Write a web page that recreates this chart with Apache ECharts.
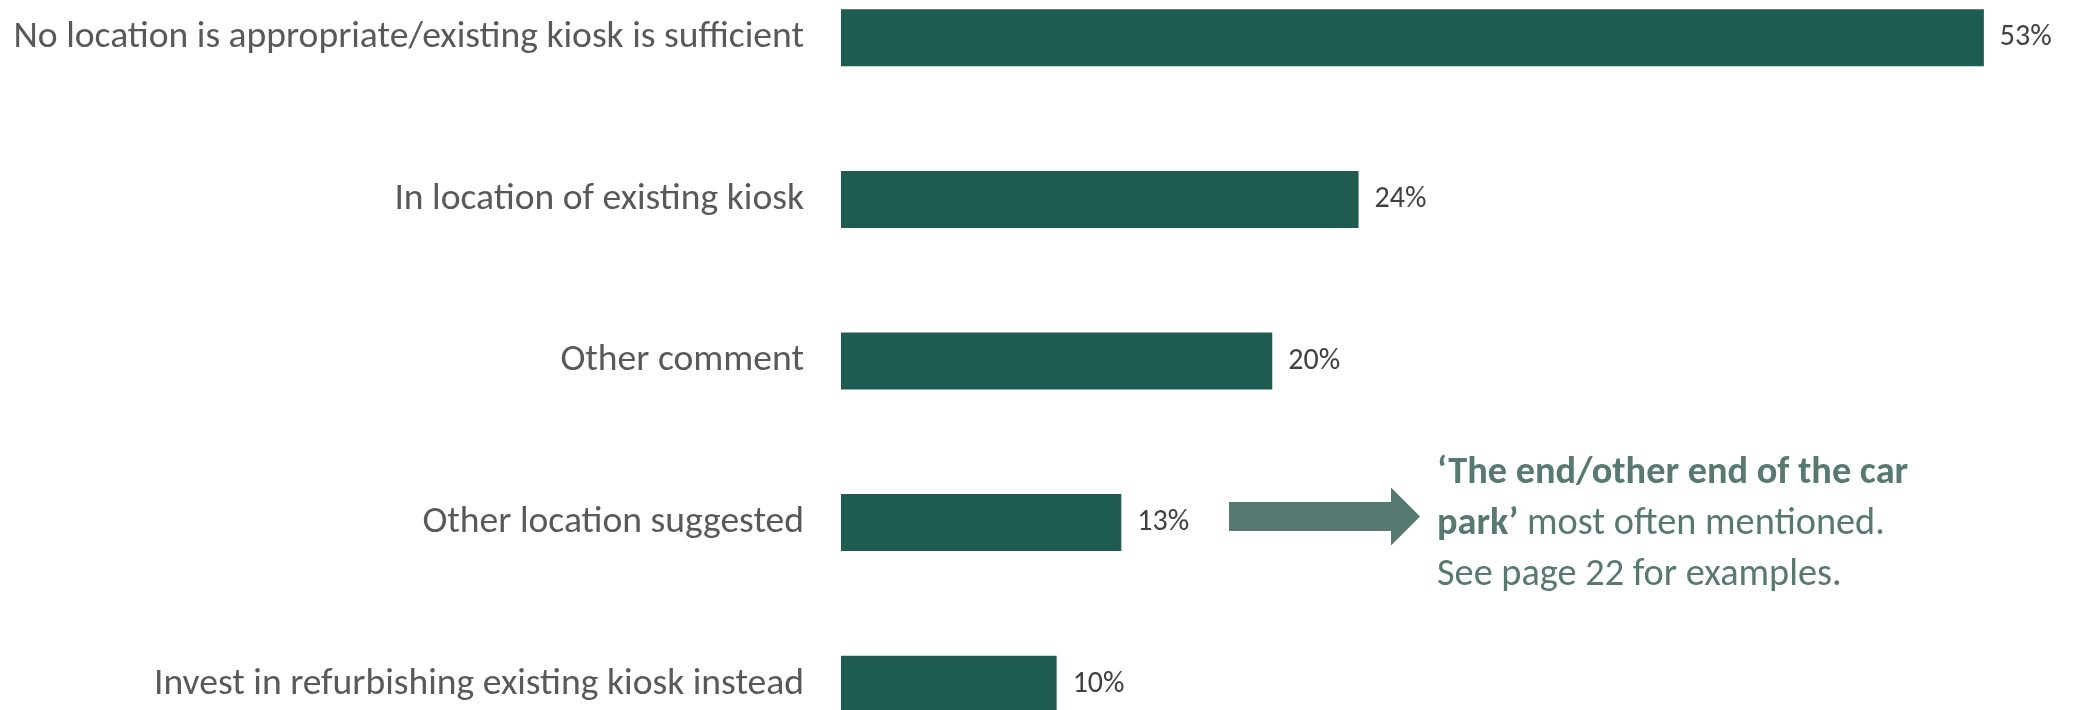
<!DOCTYPE html>
<html>
<head>
<meta charset="utf-8">
<script src="https://cdn.jsdelivr.net/npm/echarts@6/dist/echarts.min.js"></script>
<style>
  html, body { margin: 0; padding: 0; background: #fff; }
  #chart { width: 2073px; height: 710px; }
</style>
</head>
<body>
<div id="chart"></div>
<script>
const categories = [
  'No location is appropriate/existing kiosk is sufficient',
  'In location of existing kiosk',
  'Other comment',
  'Other location suggested',
  'Invest in refurbishing existing kiosk instead'
]
const values = [53, 24, 20, 13, 10]
const noteLines = [
  ['b', '‘The end/other end of the car'],
  ['b', 'park’', 'n', ' most often mentioned.'],
  ['n', 'See page 22 for examples.']
]

const FONT = "Carlito, Calibri, Lato, 'Liberation Sans', sans-serif"
const BAR = '#1e5c51'
const NOTE = '#587872'

const chart = echarts.init(document.getElementById('chart'))

chart.setOption({
  animation: false,
  backgroundColor: '#fff',
  grid: { left: 841, right: 46, top: -43, bottom: -55, containLabel: false, outerBoundsMode: 'none' },
  xAxis: {
    type: 'value',
    min: 0,
    max: 55,
    show: false
  },
  yAxis: {
    type: 'category',
    data: categories,
    inverse: true,
    axisLine: { show: false },
    axisTick: { show: false },
    axisLabel: {
      margin: 37,
      color: '#595959',
      fontFamily: FONT,
      fontSize: 37.6
    }
  },
  series: [{
    type: 'bar',
    data: values,
    barWidth: 57,
    itemStyle: { color: BAR },
    label: {
      show: true,
      position: 'right',
      distance: 16,
      formatter: '{c}%',
      color: '#404040',
      fontFamily: FONT,
      fontSize: 30
    }
  }]
})

// annotation arrow + note next to "Other location suggested"
const y = chart.convertToPixel({ yAxisIndex: 0 }, categories[3])
const ay = y - 6
const noteText = noteLines.map(parts => {
  let s = ''
  for (let i = 0; i < parts.length; i += 2) s += '{' + parts[i] + '|' + parts[i + 1] + '}'
  return s
}).join('\n')

chart.setOption({
  graphic: [
    {
      type: 'polygon',
      shape: {
        points: [
          [1229, ay - 14.5], [1391, ay - 14.5], [1391, ay - 29],
          [1420, ay], [1391, ay + 29], [1391, ay + 14.5], [1229, ay + 14.5]
        ]
      },
      style: { fill: NOTE }
    },
    {
      type: 'text',
      left: 1437,
      top: y - 68,
      style: {
        text: noteText,
        rich: {
          b: { fontFamily: FONT, fontSize: 38.3, fontWeight: 'bold', fill: NOTE, lineHeight: 51 },
          n: { fontFamily: FONT, fontSize: 38.3, fill: NOTE, lineHeight: 51 }
        }
      }
    }
  ]
})
</script>
</body>
</html>
